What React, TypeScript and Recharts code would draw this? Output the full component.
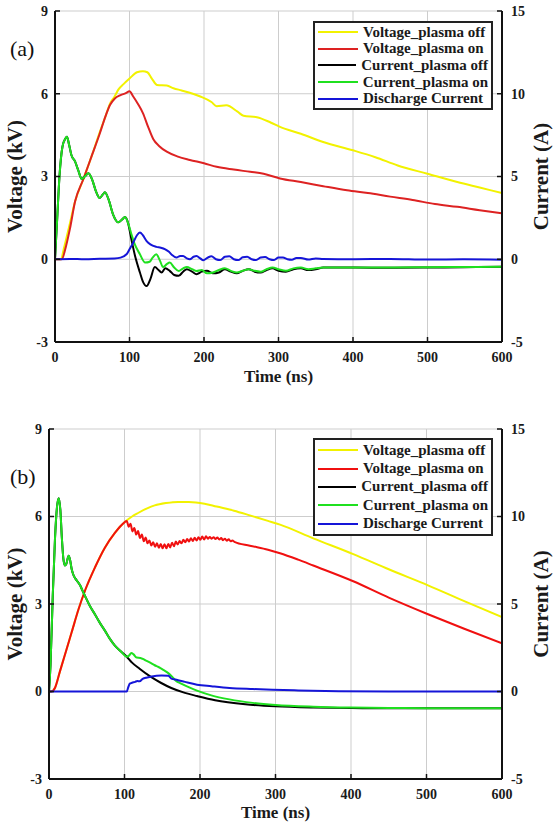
import React from "react";
import {
  CartesianGrid,
  Legend,
  Line,
  LineChart,
  XAxis,
  YAxis,
} from "recharts";

type Pair = [number, number];

const SERIF = "'Liberation Serif', 'Times New Roman', serif";

const seriesNames = [
  "Voltage_plasma off",
  "Voltage_plasma on",
  "Current_plasma off",
  "Current_plasma on",
  "Discharge Current",
];
const timeTicks = [0, 100, 200, 300, 400, 500, 600];
const voltTicks = [-3, 0, 3, 6, 9];
const currentTicks = [-5, 0, 5, 10, 15];

// (a) voltage in kV, current in A, time in ns
const aVoltOff: Pair[] = [
  [0, 0], [8, 0], [12, 0.4], [20, 1.3], [27, 2.1], [38, 2.9], [50, 3.8], [60, 4.6],
  [68, 5.2], [74, 5.65], [80, 5.9], [85, 6.15], [92, 6.35], [100, 6.55], [110, 6.78],
  [118, 6.82], [124, 6.78], [130, 6.55], [137, 6.32], [150, 6.3], [159, 6.2], [170, 6.12],
  [185, 6.0], [195, 5.9], [210, 5.7], [217, 5.55], [230, 5.58], [245, 5.35], [253, 5.2],
  [271, 5.15], [290, 4.95], [302, 4.8], [330, 4.55], [360, 4.25], [400, 3.95], [430, 3.7],
  [460, 3.4], [500, 3.1], [540, 2.8], [570, 2.6], [600, 2.4],
];
const aVoltOn: Pair[] = [
  [0, 0], [9, 0], [15, 0.5], [20, 1.1], [27, 2.1], [38, 2.9], [50, 3.8], [60, 4.55],
  [68, 5.2], [74, 5.6], [80, 5.82], [88, 5.95], [95, 6.02], [100, 6.09], [105, 5.9],
  [112, 5.6], [118, 5.3], [125, 4.8], [132, 4.35], [140, 4.1], [150, 3.9], [165, 3.72],
  [181, 3.6], [200, 3.48], [217, 3.35], [240, 3.25], [262, 3.17], [280, 3.1], [302, 2.93],
  [330, 2.8], [360, 2.65], [392, 2.5], [420, 2.4], [450, 2.27], [480, 2.15], [510, 2.0],
  [540, 1.9], [570, 1.78], [600, 1.67],
];
const aCurOff: Pair[] = [
  [0, 0], [3, 2.5], [6, 5.0], [10, 6.8], [14, 7.3], [16, 7.4], [19, 6.9], [22, 6.3],
  [27, 5.9], [31, 5.4], [36, 4.85], [40, 5.0], [45, 5.2], [50, 4.8], [55, 4.1], [60, 3.7],
  [64, 3.9], [67, 4.05], [72, 3.6], [78, 2.7], [85, 2.23], [90, 2.4], [94, 2.55], [98, 2.2],
  [103, 1.1], [108, 0.1], [114, -0.8], [118, -1.35], [123, -1.62], [128, -1.2], [134, -0.47],
  [139, -0.65], [143, -0.8], [148, -0.55], [154, -0.7], [160, -0.95], [166, -1.0],
  [172, -0.75], [177, -0.6], [184, -0.75], [190, -0.9], [197, -0.75], [204, -0.7],
  [212, -0.85], [220, -0.8], [228, -0.6], [236, -0.75], [244, -0.85], [252, -0.7],
  [260, -0.6], [268, -0.75], [276, -0.8], [284, -0.65], [292, -0.55], [300, -0.7],
  [310, -0.75], [320, -0.6], [330, -0.55], [340, -0.65], [350, -0.6], [360, -0.5],
  [400, -0.5], [450, -0.52], [500, -0.5], [550, -0.48], [600, -0.45],
];
const aCurOn: Pair[] = [
  [0, 0], [3, 2.5], [6, 5.0], [10, 6.8], [14, 7.3], [16, 7.4], [19, 6.9], [22, 6.3],
  [27, 5.9], [31, 5.4], [36, 4.85], [40, 5.0], [45, 5.2], [50, 4.8], [55, 4.1], [60, 3.7],
  [64, 3.9], [67, 4.05], [72, 3.6], [78, 2.7], [85, 2.23], [90, 2.4], [94, 2.55], [98, 2.2],
  [102, 1.6], [107, 0.91], [114, 0.3], [121, -0.2], [127, -0.15], [131, 0.1], [136, 0.3],
  [141, -0.1], [145, -0.47], [150, -0.3], [154, -0.2], [160, -0.5], [166, -0.71],
  [172, -0.55], [177, -0.47], [184, -0.6], [190, -0.71], [197, -0.65], [204, -0.85],
  [212, -0.8], [220, -0.65], [228, -0.55], [236, -0.7], [244, -0.8], [252, -0.7],
  [260, -0.6], [268, -0.7], [276, -0.75], [284, -0.6], [292, -0.5], [300, -0.6],
  [310, -0.7], [320, -0.55], [330, -0.5], [340, -0.6], [350, -0.55], [360, -0.5],
  [400, -0.5], [450, -0.5], [500, -0.48], [550, -0.47], [600, -0.45],
];
const aDischarge: Pair[] = [
  [0, 0], [20, 0.02], [40, 0], [60, 0.03], [80, 0.05], [88, 0.1], [96, 0.3], [100, 0.6],
  [105, 1.0], [110, 1.45], [114, 1.62], [118, 1.45], [123, 1.1], [128, 0.9], [136, 0.75],
  [142, 0.7], [148, 0.6], [153, 0.45], [157, 0.26], [163, 0.1], [168, 0.2], [172, 0.2],
  [177, 0.05], [181, 0], [186, 0.15], [190, 0.2], [195, 0.05], [199, -0.06], [205, 0.1],
  [210, 0.18], [216, 0.0], [222, -0.05], [228, 0.15], [234, 0.18], [240, 0], [246, -0.05],
  [252, 0.12], [258, 0.15], [264, 0], [270, -0.05], [276, 0.1], [282, 0.13], [288, 0],
  [294, -0.05], [300, 0.1], [306, 0.1], [312, 0], [318, -0.03], [324, 0.08], [330, 0.08],
  [340, -0.02], [350, 0.05], [360, 0.02], [400, 0], [450, 0.02], [500, -0.02], [550, 0],
  [600, -0.03],
];

// (b)
const bVoltOff: Pair[] = [
  [0, 0], [3, 0], [8, 0.13], [14.5, 0.69], [21, 1.25], [30, 2.03], [39, 2.81], [48, 3.48],
  [61, 4.26], [74, 4.93], [87, 5.43], [100, 5.8], [110, 6.0], [118, 6.12], [130, 6.28],
  [140, 6.38], [155, 6.46], [171, 6.5], [185, 6.5], [206, 6.44], [222, 6.34], [245, 6.2],
  [266, 6.04], [290, 5.85], [306, 5.72], [350, 5.25], [403, 4.71], [450, 4.19],
  [502, 3.64], [550, 3.1], [600, 2.55],
];
const bVoltOn: Pair[] = [
  [0, 0], [3, 0], [8, 0.13], [14.5, 0.69], [21, 1.25], [30, 2.03], [39, 2.81], [48, 3.48],
  [61, 4.26], [74, 4.93], [87, 5.43], [100, 5.8], [103, 5.85], [105.5, 5.65], [108, 5.75],
  [110.5, 5.49], [113, 5.61], [115.5, 5.38], [118, 5.5], [120.5, 5.26], [123, 5.38],
  [125.5, 5.15], [128, 5.28], [130.5, 5.08], [133, 5.18], [135.5, 5.01], [138, 5.12],
  [140.5, 4.96], [143, 5.08], [145.5, 4.93], [148, 5.06], [150.5, 4.91], [153, 5.05],
  [155.5, 4.91], [158, 5.06], [160.5, 4.94], [163, 5.1], [165.5, 4.98], [168, 5.14],
  [170.5, 5.04], [173, 5.16], [175.5, 5.08], [178, 5.2], [180.5, 5.12], [183, 5.23],
  [185.5, 5.14], [188, 5.25], [190.5, 5.16], [193, 5.27], [195.5, 5.18], [198, 5.29],
  [200.5, 5.2], [203, 5.31], [205.5, 5.21], [208, 5.32], [210.5, 5.24], [213, 5.3],
  [215.5, 5.24], [218, 5.29], [220.5, 5.23], [223, 5.28], [225.5, 5.21], [228, 5.26],
  [230.5, 5.19], [233, 5.24], [235.5, 5.17], [238, 5.22], [240.5, 5.15], [243, 5.18],
  [245.5, 5.13], [266, 5.0], [290, 4.86], [306, 4.74], [330, 4.52], [350, 4.32],
  [403, 3.78], [450, 3.22], [502, 2.65], [550, 2.15], [600, 1.65],
];
const bCurOff: Pair[] = [
  [0, 0], [2, 1.5], [5, 5.5], [8, 8.8], [11, 10.7], [13, 11.05], [15, 10.4], [17, 8.8],
  [19, 7.6], [21, 7.2], [23, 7.3], [26, 7.76], [28, 7.5], [30, 7.0], [32, 6.7], [35, 6.45],
  [38, 6.27], [41, 6.08], [44, 5.8], [48, 5.43], [54, 4.9], [61, 4.4], [67, 3.95],
  [74, 3.48], [80, 3.05], [87, 2.64], [95, 2.3], [103, 1.99], [110, 1.65], [120, 1.3],
  [134, 0.86], [148, 0.5], [162, 0.2], [180, -0.08], [196, -0.26], [220, -0.5],
  [260, -0.73], [300, -0.85], [350, -0.92], [400, -0.95], [450, -0.96], [500, -0.96],
  [550, -0.96], [600, -0.96],
];
const bCurOn: Pair[] = [
  [0, 0], [2, 1.5], [5, 5.5], [8, 8.8], [11, 10.7], [13, 11.05], [15, 10.4], [17, 8.8],
  [19, 7.6], [21, 7.2], [23, 7.3], [26, 7.76], [28, 7.5], [30, 7.0], [32, 6.7], [35, 6.45],
  [38, 6.27], [41, 6.08], [44, 5.8], [48, 5.43], [54, 4.9], [61, 4.4], [67, 3.95],
  [74, 3.48], [80, 3.05], [87, 2.64], [95, 2.3], [103, 1.99], [106, 2.05], [109, 2.2],
  [112, 2.12], [116, 1.94], [121, 1.92], [127, 1.8], [134, 1.65], [140, 1.5], [145, 1.4],
  [152, 1.22], [158, 1.05], [163, 0.85], [168, 0.62], [175, 0.45], [185, 0.25],
  [196, 0.05], [215, -0.22], [239, -0.45], [270, -0.65], [300, -0.77], [350, -0.87],
  [400, -0.92], [450, -0.94], [500, -0.95], [550, -0.95], [600, -0.95],
];
const bDischarge: Pair[] = [
  [0, 0], [103, 0], [105, 0.25], [107, 0.45], [110, 0.5], [114, 0.55], [117, 0.6],
  [120, 0.58], [124, 0.72], [130, 0.8], [136, 0.86], [149, 0.91], [158, 0.9], [162, 0.74],
  [170, 0.66], [180, 0.55], [196, 0.39], [215, 0.3], [239, 0.2], [270, 0.14], [296, 0.1],
  [330, 0.06], [384, 0.02], [450, 0], [600, 0],
];

const toPts = (arr: Pair[]) => arr.map(([t, v]) => ({ t, v }));

const tickFont = { fontFamily: SERIF, fontWeight: 700, fontSize: 14, fill: "#1a1a1a" };
const titleFont = { fontFamily: SERIF, fontWeight: 700, fontSize: 17, fill: "#1a1a1a" };
const sideTitleFont = { ...titleFont, fontSize: 21 };
const AXIS = { stroke: "#111", strokeWidth: 2 };

function LegendBox({ payload, rowH }: { payload?: any[]; rowH: number }) {
  const items = [...(payload || [])].sort(
    (a, b) => seriesNames.indexOf(a.value) - seriesNames.indexOf(b.value)
  );
  return (
    <div
      style={{
        border: "2px solid #222",
        background: "#fff",
        padding: "1px 3px",
        width: 180,
        boxSizing: "border-box",
      }}
    >
      {items.map((p) => (
        <div key={p.value} style={{ display: "flex", alignItems: "center", height: rowH }}>
          <span style={{ width: 40, borderTop: `2px solid ${p.color}`, marginRight: 5 }} />
          <span
            style={{
              fontFamily: SERIF,
              fontWeight: 700,
              fontSize: 15,
              color: "#1a1a1a",
              whiteSpace: "nowrap",
            }}
          >
            {p.value}
          </span>
        </div>
      ))}
    </div>
  );
}

interface PanelProps {
  tag: string;
  top: number;
  height: number;
  yAxisW: number;
  xAxisH: number;
  xTickMargin: number;
  titleOffset: number;
  legendTop: number;
  rowH: number;
  red: string;
  tagTop: number;
  series: Pair[][];
}

function Panel(p: PanelProps) {
  const colors = ["#f2f200", p.red, "#000000", "#1fe01f", "#1515d8"];
  const isCurrent = [false, false, true, true, true];
  return (
    <div style={{ position: "absolute", left: 0, top: p.top, width: 558, height: p.height }}>
      <LineChart width={558} height={p.height} margin={{ top: 11, right: 0, bottom: 0, left: 0 }}>
        <CartesianGrid xAxisId="x" yAxisId="v" stroke="#cdcdcd" strokeWidth={1} />
        <XAxis
          xAxisId="x"
          dataKey="t"
          type="number"
          domain={[0, 600]}
          ticks={timeTicks}
          allowDataOverflow
          height={p.xAxisH}
          axisLine={AXIS}
          tickLine={{ stroke: "#111", strokeWidth: 1.5 }}
          tickSize={-5}
          tickMargin={p.xTickMargin}
          tick={tickFont}
          label={{ value: "Time (ns)", position: "insideBottom", offset: p.titleOffset, style: titleFont }}
        />
        <XAxis
          xAxisId="top"
          orientation="top"
          dataKey="t"
          type="number"
          domain={[0, 600]}
          ticks={timeTicks}
          height={0}
          axisLine={AXIS}
          tickLine={{ stroke: "#111", strokeWidth: 1.5 }}
          tickSize={-5}
          tick={false}
        />
        <YAxis
          yAxisId="v"
          type="number"
          domain={[-3, 9]}
          ticks={voltTicks}
          allowDataOverflow
          width={p.yAxisW}
          axisLine={AXIS}
          tickLine={{ stroke: "#111", strokeWidth: 1.5 }}
          tickSize={-5}
          tickMargin={12}
          tick={tickFont}
          label={{ value: "Voltage (kV)", angle: -90, position: "center", dx: 15 - p.yAxisW / 2, style: sideTitleFont }}
        />
        <YAxis
          yAxisId="i"
          orientation="right"
          type="number"
          domain={[-5, 15]}
          ticks={currentTicks}
          allowDataOverflow
          width={56}
          axisLine={AXIS}
          tickLine={{ stroke: "#111", strokeWidth: 1.5 }}
          tickSize={-5}
          tickMargin={14}
          tick={{ ...tickFont, textAnchor: "start" }}
          label={{ value: "Current (A)", angle: -90, position: "center", dx: 11, style: sideTitleFont }}
        />
        {p.series.map((s, k) => (
          <Line
            key={seriesNames[k]}
            xAxisId="x"
            yAxisId={isCurrent[k] ? "i" : "v"}
            data={toPts(s)}
            dataKey="v"
            name={seriesNames[k]}
            stroke={colors[k]}
            strokeWidth={2}
            type="monotone"
            dot={false}
            activeDot={false}
            isAnimationActive={false}
          />
        ))}
        <Legend
          layout="vertical"
          align="center"
          verticalAlign="middle"
          wrapperStyle={{ left: 313, top: p.legendTop - p.top, width: 180 }}
          content={(props: any) => <LegendBox payload={props.payload} rowH={p.rowH} />}
        />
      </LineChart>
      <div
        style={{
          position: "absolute",
          left: 10,
          top: p.tagTop - p.top,
          fontFamily: SERIF,
          fontSize: 22,
          lineHeight: "22px",
          color: "#111",
        }}
      >
        {p.tag}
      </div>
    </div>
  );
}

export default function App() {
  return (
    <div style={{ position: "absolute", left: 0, top: 0, width: 558, height: 837, background: "#fff" }}>
      <Panel
        tag="(a)"
        top={0}
        height={390}
        yAxisW={55}
        xAxisH={48}
        xTickMargin={15}
        titleOffset={8}
        legendTop={21}
        rowH={16.6}
        red="#dd2222"
        tagTop={38}
        series={[aVoltOff, aVoltOn, aCurOff, aCurOn, aDischarge]}
      />
      <Panel
        tag="(b)"
        top={418}
        height={419}
        yAxisW={49}
        xAxisH={58}
        xTickMargin={15}
        titleOffset={19}
        legendTop={438}
        rowH={18.4}
        red="#f01010"
        tagTop={466}
        series={[bVoltOff, bVoltOn, bCurOff, bCurOn, bDischarge]}
      />
    </div>
  );
}
